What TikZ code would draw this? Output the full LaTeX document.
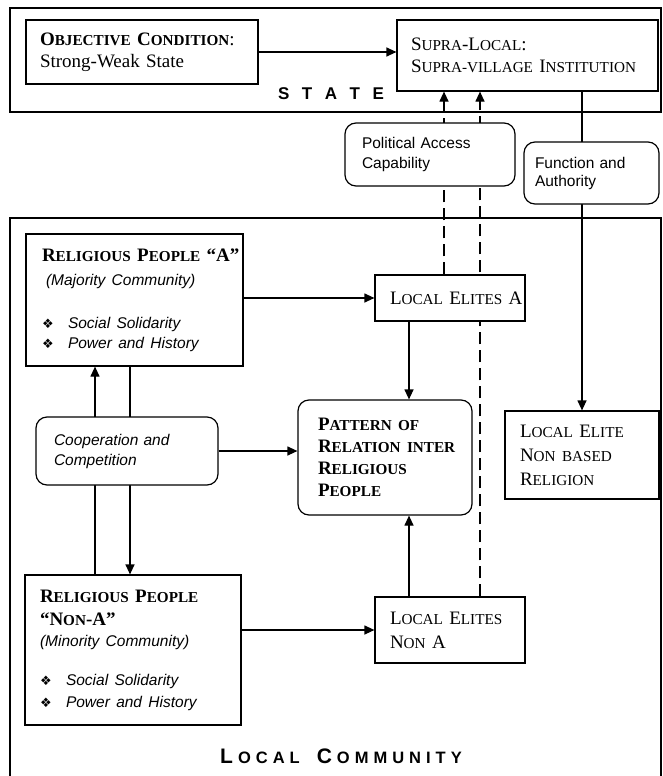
\documentclass[tikz,border=0pt]{standalone}
\usepackage{fontspec}
\setmainfont{Liberation Serif}
\setsansfont{Liberation Sans}
\newfontfamily\symfont{DejaVu Sans}
\usetikzlibrary{positioning, arrows.meta, backgrounds}
\newcommand{\smc}[1]{{\fontsize{15.2}{22}\selectfont #1}}
\newcommand{\dmark}{\makebox[26pt][l]{\symfont\fontsize{13}{20}\selectfont ❖}}
\newcommand{\sanstxt}[1]{{\sffamily\itshape\fontsize{15.5}{20}\selectfont #1}}
\newcommand{\ls}{\hspace{5pt}}
\newcommand{\zonecapA}[1]{{\fontsize{21}{21}\selectfont #1}}
\newcommand{\zonecapB}[1]{{\fontsize{16.5}{16.5}\selectfont #1}}

\begin{document}
\begin{tikzpicture}[x=1pt, y=-1pt,
    every node/.style={inner sep=0pt},
    box/.style={draw, line width=1.2pt, align=left, fill=white,
                font=\fontsize{19}{22}\selectfont},
    rbox/.style={box, rounded corners=11pt},
    note/.style={rbox, font=\fontsize{15.5}{20}\selectfont\sffamily},
    zone/.style={draw, line width=1.2pt},
    zonelbl/.style={font=\sffamily\bfseries},
    arr/.style={-{Triangle[length=10pt, width=9pt]}, line width=1.2pt},
    dasharr/.style={arr, dash pattern=on 12pt off 6pt},
  ]
    \useasboundingbox (0,0) rectangle (662,776);

    % the two zones
    \node[zone, minimum width=651pt, minimum height=104pt] (state) at (335.5,60) {};
    \node[zone, minimum width=651pt, minimum height=600pt] (community) at (335.5,518) {};
    \node[zonelbl] (statelbl) at (331,94)
      {\fontsize{17}{17}\selectfont S\hspace{12.5pt}T\hspace{12.5pt}A\hspace{12.5pt}T\hspace{12.5pt}E};
    \node[zonelbl] (communitylbl) at (341,756)
      {\zonecapA{L}\ls\zonecapB{O\ls C\ls A\ls L}\hspace{17pt}%
       \zonecapA{C}\ls\zonecapB{O\ls M\ls M\ls U\ls N\ls I\ls T\ls Y}};

    % state level
    \node[box, text width=204pt, inner xsep=14pt, minimum height=64pt] (obj) at (142,52)
      {\textbf{O\smc{BJECTIVE} C\smc{ONDITION}}:\\Strong-Weak State};
    \node[box, text width=233pt, inner xsep=14pt, minimum height=71pt] (supra) at (527.5,55.5)
      {S\smc{UPRA}-L\smc{OCAL}:\\\mbox{S\smc{UPRA-VILLAGE} I\smc{NSTITUTION}}};
    \node[note, text width=136pt, inner xsep=17pt, minimum height=63pt] (access) at (430,154.5)
      {Political Access\\Capability};
    \node[note, text width=113pt, inner xsep=11pt, minimum height=62pt] (func) at (591.5,173)
      {Function and\\[-2pt]Authority};

    % local community
    \node[box, text width=185pt, inner xsep=16pt, minimum height=132pt] (rela) at (134.5,300)
      {\mbox{\textbf{R\smc{ELIGIOUS} P\smc{EOPLE} “A”}}\\[2pt]
       \hspace*{4pt}\sanstxt{(Majority Community)}\\[21pt]
       \dmark\sanstxt{Social Solidarity}\\[-2pt]
       \dmark\sanstxt{Power and History}};
    \node[box, text width=120pt, inner xsep=15pt, minimum height=46pt] (ela) at (450,298)
      {\mbox{L\smc{OCAL} E\smc{LITES} A}};
    \node[note, text width=146pt, inner xsep=18pt, minimum height=68pt] (coop) at (127,451)
      {\itshape Cooperation and\\\itshape Competition};
    \node[rbox, text width=134pt, inner xsep=20pt, minimum height=115pt] (pattern) at (385,457.5)
      {\textbf{P\smc{ATTERN OF}}\\\mbox{\textbf{R\smc{ELATION INTER}}}\\
       \textbf{R\smc{ELIGIOUS}}\\\textbf{P\smc{EOPLE}}};
    \node[box, text width=124pt, inner xsep=15pt, minimum height=88pt] (nbr) at (582,455)
      {L\smc{OCAL} E\smc{LITE}\\[2pt]N\smc{ON BASED}\\[2pt]R\smc{ELIGION}};
    \node[box, text width=186pt, inner xsep=15pt, minimum height=150pt] (relna) at (133,650)
      {\textbf{R\smc{ELIGIOUS} P\smc{EOPLE}}\\[1pt]
       \textbf{“N\smc{ON}-A”}\\[-1pt]
       \sanstxt{(Minority Community)}\\[17pt]
       \dmark\sanstxt{Social Solidarity}\\
       \dmark\sanstxt{Power and History}};
    \node[box, text width=120pt, inner xsep=15pt, minimum height=66pt] (elna) at (450,630)
      {L\smc{OCAL} E\smc{LITES}\\[2pt]N\smc{ON} A};

    % connectors
    \draw[arr] (obj.east) -- (obj.east -| supra.west);
    \draw[arr] (rela.east |- ela.west) -- (ela.west);
    \draw[arr] (relna.east |- elna.west) -- (elna.west);
    \draw[arr] (coop.east) -- (coop.east -| pattern.west);
    \draw[arr] ([xshift=-41pt]ela.south) -- ([xshift=-41pt]ela.south |- pattern.north);
    \draw[arr] ([xshift=-41pt]elna.north) -- ([xshift=-41pt]elna.north |- pattern.south);
    \begin{scope}[on background layer]
      \draw[dasharr] ([xshift=-6pt]ela.north) -- ([xshift=-6pt]ela.north |- supra.south);
      \draw[dasharr] ([xshift=30pt]elna.north) -- ([xshift=30pt]elna.north |- supra.south);
      \draw[arr] (nbr.north |- supra.south) -- (nbr.north);
      \draw[arr] ([xshift=-38pt]relna.north) -- ([xshift=-38pt]relna.north |- rela.south);
      \draw[arr] ([xshift=-4.5pt]rela.south) -- ([xshift=-4.5pt]rela.south |- relna.north);
    \end{scope}
  \end{tikzpicture}
\end{document}
